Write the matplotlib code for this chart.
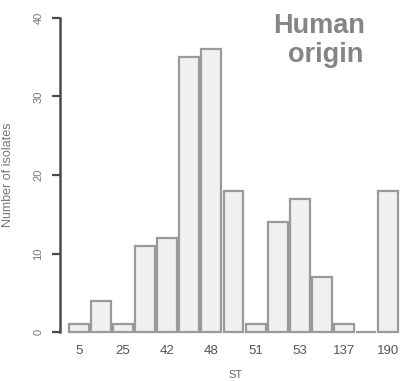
import matplotlib
matplotlib.use("Agg")
import matplotlib.pyplot as plt
import numpy as np

# Isolate counts per sequence type (ST)
counts = [1, 4, 1, 11, 12, 35, 36, 18, 1, 14, 17, 7, 1, 0, 18]
tick_labels = ["5", "25", "42", "48", "51", "53", "137", "190"]
tick_index = [0, 2, 4, 6, 8, 10, 12, 14]
y_ticks = [0, 10, 20, 30, 40]

plt.rcParams["font.family"] = ["Liberation Sans", "DejaVu Sans"]

fig = plt.figure(figsize=(4.01, 3.81), dpi=100)
ax = fig.add_axes([60 / 401, 49 / 381, 341 / 401, 314 / 381])

x = np.arange(len(counts))
ax.bar(x, counts, width=0.9, color="#f0f0f0", edgecolor="#9a9a9a",
       linewidth=1.6, clip_on=False, zorder=3)

ax.set_xlim(-0.861, 14.589)
ax.set_ylim(0, 40)

for side in ("top", "right", "bottom"):
    ax.spines[side].set_visible(False)
ax.spines["left"].set_color("#4a4a4a")
ax.spines["left"].set_linewidth(1.8)

ax.set_yticks(y_ticks)
ax.set_yticklabels([str(v) for v in y_ticks], rotation=90, va="center",
                   fontsize=8, color="#777777")
ax.tick_params(axis="y", length=6, width=1.6, color="#4a4a4a", pad=6)

ax.set_xticks(tick_index)
ax.set_xticklabels(tick_labels, fontsize=9.5, color="#555555")
ax.tick_params(axis="x", length=0, pad=9)

ax.set_ylabel("Number of isolates", fontsize=9, color="#777777")
ax.yaxis.set_label_coords(-0.135, 0.5)
ax.set_xlabel("ST", fontsize=8, color="#666666")
ax.xaxis.set_label_coords((236 - 60) / 341, -0.12)

fig.text(365 / 401, 1 - 33 / 381, "Human", ha="right", va="baseline",
         fontsize=19.5, fontweight="bold", color="#858585")
fig.text(363 / 401, 1 - 62 / 381, "origin", ha="right", va="baseline",
         fontsize=19.5, fontweight="bold", color="#858585")

fig.savefig("out.png", dpi=100)
